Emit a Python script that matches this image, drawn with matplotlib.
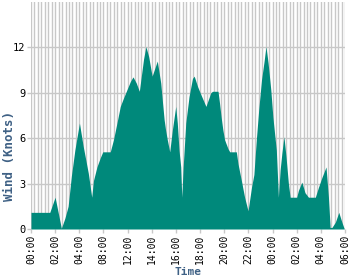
import matplotlib
matplotlib.use("Agg")
import matplotlib.pyplot as plt

# sample position (slot index along categorical time axis) and wind speed
slot = [0, 5.44, 6.98, 8.8, 9.8, 10.76, 11.7, 12.7, 14.04, 15.1, 16.6, 17.6, 18.1, 19.1,
        20.06, 20.8, 22.97, 23.9, 24.9, 25.87, 26.8, 27.8, 28.8, 29.56, 30.5, 31.4, 32.2,
        32.6, 33.3, 34.1, 35.1, 36.6, 37.6, 38.1, 38.6, 39.0, 39.5, 40.2, 41.0, 41.5, 41.95,
        42.4, 42.9, 43.4, 43.7, 44.1, 44.85, 45.8, 46.8, 47.3, 48.3, 49.2, 50.7, 52.1, 52.6,
        54.2, 54.65, 55.1, 55.6, 56.1, 57.1, 57.6, 59.5, 60.0, 60.97, 61.9, 62.9, 63.9, 64.6,
        65.3, 66.0, 66.8, 67.5, 68.1, 68.7, 69.5, 70.1, 71.1, 71.7, 72.2, 72.7, 73.3, 73.9,
        74.6, 75.1, 77.0, 77.5, 78.5, 79.4, 80.4, 82.4, 83.3, 84.3, 85.5, 86.2, 86.7, 87.2,
        88.2, 89.2, 90.1, 90.8]
wind = [1.1, 1.1, 2.1, 0.05, 0.7, 1.5, 3.5, 5.2, 7.0, 5.5, 3.7, 2.1, 3.2, 4.1,
        4.7, 5.1, 5.1, 5.9, 7.0, 8.1, 8.65, 9.2, 9.75, 10.05, 9.65, 9.1, 10.5,
        11.2, 12.05, 11.4, 10.1, 11.1, 9.65, 8.4, 7.2, 6.55, 5.9, 5.1, 6.6, 7.4, 8.1,
        7.0, 5.2, 4.1, 2.1, 4.1, 7.0, 8.75, 9.95, 10.1, 9.4, 8.9, 8.1, 9.0, 9.1,
        9.1, 8.3, 7.4, 6.55, 5.9, 5.3, 5.1, 5.1, 4.3, 3.2, 2.1, 1.2, 2.75, 3.6,
        5.9, 7.9, 9.85, 11.0, 12.05, 11.0, 9.2, 7.4, 5.2, 2.1, 3.9, 5.0, 6.1, 4.8,
        3.0, 2.1, 2.1, 2.55, 3.1, 2.4, 2.1, 2.1, 2.75, 3.4, 4.1, 2.1, 0.1, 0.1,
        0.45, 1.1, 0.45, 0.0]

n_slots = 91
tick_slots = list(range(0, 92, 7))
tick_labels = ["00:00", "02:00", "04:00", "08:00", "12:00", "14:00", "16:00",
               "18:00", "20:00", "22:00", "00:00", "02:00", "04:00", "06:00"]
y_ticks = [0, 3, 6, 9, 12]

fill_color = "#00897B"
grid_color = "#C8C8C8"
label_color = "#3F6185"

fig = plt.figure(figsize=(3.5, 2.8), dpi=100)
ax = fig.add_axes([31/350, 51/280, 314/350, 227/280])

for s in range(0, n_slots + 1):
    ax.axvline(s, color=grid_color, lw=1.0, zorder=0)
for yv in y_ticks:
    ax.axhline(yv, color=grid_color, lw=1.0, zorder=0)

ax.fill_between(slot, wind, 0, color=fill_color, lw=0, zorder=2)

ax.set_xlim(0, n_slots)
ax.set_ylim(0, 15)
ax.set_xticks(tick_slots)
ax.set_xticklabels(tick_labels, rotation=90, fontsize=7, family="DejaVu Sans Mono")
ax.set_yticks(y_ticks)
ax.set_yticklabels([str(v) for v in y_ticks], fontsize=7.5, family="DejaVu Sans Mono")
ax.tick_params(axis="both", length=3, width=1, color=grid_color, pad=1)
for sp in ax.spines.values():
    sp.set_visible(False)

ax.set_xlabel("Time", fontsize=8, fontweight="bold", family="DejaVu Sans Mono",
              color=label_color, labelpad=2)
ax.set_ylabel("Wind (Knots)", fontsize=9, fontweight="bold", family="DejaVu Sans Mono",
              color=label_color)
ax.yaxis.set_label_coords(-0.048, 0.32)

fig.savefig("out.png", dpi=100)
